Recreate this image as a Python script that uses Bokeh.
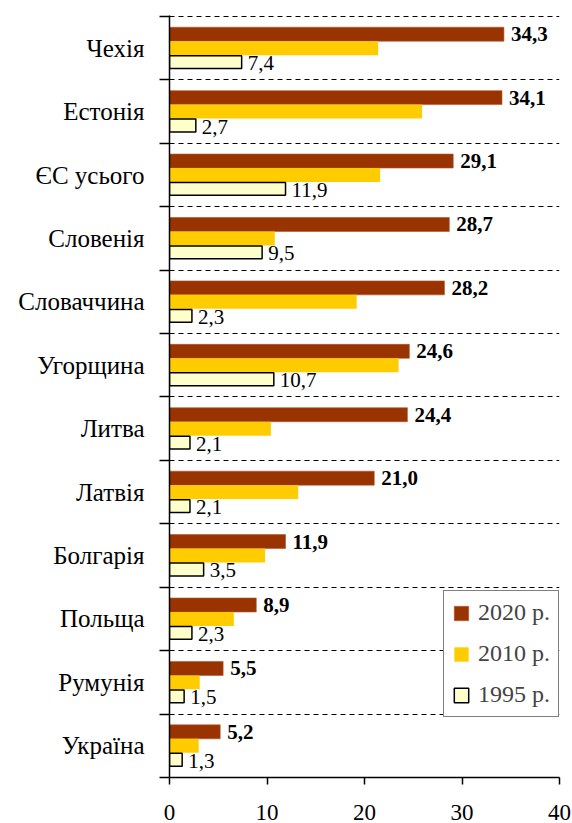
from bokeh.plotting import figure
from bokeh.models import ColumnDataSource, FixedTicker, Range1d, Legend, LegendItem
from bokeh.core.properties import value
from bokeh.embed import file_html
from bokeh.resources import INLINE

countries = ["Чехія", "Естонія", "ЄС усього", "Словенія", "Словаччина", "Угорщина",
             "Литва", "Латвія", "Болгарія", "Польща", "Румунія", "Україна"]
v2020 = [34.3, 34.1, 29.1, 28.7, 28.2, 24.6, 24.4, 21.0, 11.9, 8.9, 5.5, 5.2]
v2010 = [21.4, 25.9, 21.6, 10.8, 19.2, 23.5, 10.4, 13.2, 9.8, 6.6, 3.1, 3.0]
v1995 = [7.4, 2.7, 11.9, 9.5, 2.3, 10.7, 2.1, 2.1, 3.5, 2.3, 1.5, 1.3]
series_names = ["2020 р.", "2010 р.", "1995 р."]
x_ticks = [0, 10, 20, 30, 40]

FONT = "Liberation Serif"
C2020, C2010, C1995 = "#993300", "#FFCC00", "#FFFFCC"

n = len(countries)
pos = [n - 1 - i for i in range(n)]
bh = 0.22

def fmt(v):
    return f"{v:.1f}".replace(".", ",")

src = ColumnDataSource(dict(
    y20=[p + bh for p in pos], y10=pos, y95=[p - bh for p in pos],
    v20=v2020, v10=v2010, v95=v1995,
    t20=[fmt(v) for v in v2020], t95=[fmt(v) for v in v1995],
))

p = figure(width=572, height=823, output_backend="svg", toolbar_location=None,
           x_range=Range1d(0, 40), y_range=Range1d(-0.5, n - 0.5 + 0.015),
           min_border_left=169, min_border_right=13, min_border_top=15,
           min_border_bottom=46)
p.outline_line_color = None
p.xgrid.visible = False
p.background_fill_color = "white"

r20 = p.hbar(y="y20", left=0, right="v20", height=bh, source=src,
             fill_color=C2020, line_color="#B0532A", line_width=0.6)
r10 = p.hbar(y="y10", left=0, right="v10", height=bh, source=src,
             fill_color=C2010, line_color=None)
r95 = p.hbar(y="y95", left=0, right="v95", height=bh * 0.92, source=src,
             fill_color=C1995, line_color="black", line_width=1.5)

p.text(x="v20", y="y20", text="t20", source=src, x_offset=7, y_offset=0,
       text_font=value(FONT), text_font_style="bold", text_font_size="21px",
       text_baseline="middle", text_color="black")
p.text(x="v95", y="y95", text="t95", source=src, x_offset=6, y_offset=1,
       text_font=value(FONT), text_font_size="21px",
       text_baseline="middle", text_color="black")

# y axis
boundaries = [k - 0.5 for k in range(n + 1)]
p.yaxis.ticker = FixedTicker(ticks=pos, minor_ticks=boundaries)
p.yaxis.major_label_overrides = {pp: c for pp, c in zip(pos, countries)}
p.yaxis.major_tick_line_color = None
p.yaxis.major_tick_out = 0
p.yaxis.major_tick_in = 0
p.yaxis.minor_tick_out = 10
p.yaxis.minor_tick_in = 0
p.yaxis.minor_tick_line_color = "black"
p.yaxis.minor_tick_line_width = 1.5
p.yaxis.axis_line_color = "black"
p.yaxis.axis_line_width = 1.5
p.yaxis.major_label_standoff = 15
p.yaxis.major_label_text_font = FONT
p.yaxis.major_label_text_font_size = "25px"
p.yaxis.major_label_text_color = "black"

p.ygrid.ticker = FixedTicker(ticks=boundaries[1:])
p.ygrid.grid_line_color = "black"
p.ygrid.grid_line_dash = "5 4"
p.ygrid.grid_line_width = 1.2

# x axis
p.xaxis.ticker = FixedTicker(ticks=x_ticks)
p.xaxis.minor_tick_line_color = None
p.xaxis.major_tick_out = 7
p.xaxis.major_tick_in = 0
p.xaxis.major_tick_line_color = "black"
p.xaxis.major_tick_line_width = 1.5
p.xaxis.axis_line_color = "black"
p.xaxis.axis_line_width = 1.5
p.xaxis.major_label_standoff = 20
p.xaxis.major_label_text_font = FONT
p.xaxis.major_label_text_font_size = "23px"
p.xaxis.major_label_text_color = "black"

legend = Legend(items=[LegendItem(label=series_names[0], renderers=[r20]),
                       LegendItem(label=series_names[1], renderers=[r10]),
                       LegendItem(label=series_names[2], renderers=[r95])],
                location=(274, 60))
legend.label_text_font = FONT
legend.label_text_font_size = "24px"
legend.glyph_width = 18
legend.glyph_height = 18
legend.label_height = 18
legend.spacing = 14
legend.padding = 8
legend.margin = 0
legend.label_standoff = 8
legend.border_line_color = "black"
legend.border_line_width = 1.5
legend.background_fill_color = "white"
legend.background_fill_alpha = 1
p.add_layout(legend, "center")

open("out.html", "w").write(file_html(p, INLINE))
